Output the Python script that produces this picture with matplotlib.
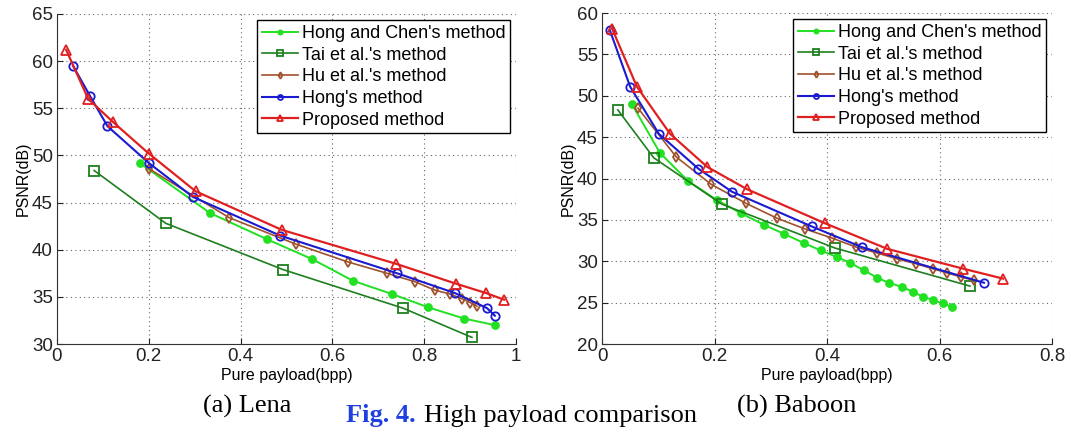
import matplotlib
matplotlib.use("Agg")
from matplotlib import pyplot as plt
from matplotlib.ticker import FuncFormatter

plt.rcParams['font.family'] = ['Liberation Sans', 'DejaVu Sans']

labels = ["Hong and Chen's method", "Tai et al.'s method", "Hu et al.'s method",
          "Hong's method", "Proposed method"]
colors = ["#22e022", "#1e7f1e", "#a0522d", "#1a1ad0", "#e02020"]
markers = ["o", "s", "d", "o", "^"]
msizes = [5, 6.5, 5.5, 6, 7]
fills = [True, False, False, False, False]
lwidths = [1.4, 1.2, 1.2, 1.5, 1.6]

# Lena
lena_hc_x = [0.18, 0.333, 0.458, 0.556, 0.645, 0.73, 0.808, 0.887, 0.954]
lena_hc_y = [49.2, 43.9, 41.1, 39.0, 36.7, 35.3, 33.9, 32.7, 32.0]
lena_tai_x = [0.081, 0.237, 0.492, 0.754, 0.904]
lena_tai_y = [48.4, 42.8, 37.9, 33.8, 30.7]
lena_hu_x = [0.2, 0.375, 0.52, 0.634, 0.719, 0.78, 0.824, 0.856, 0.882, 0.90, 0.915]
lena_hu_y = [48.6, 43.4, 40.6, 38.7, 37.5, 36.6, 35.7, 35.3, 34.8, 34.4, 34.0]
lena_hong_x = [0.035, 0.072, 0.11, 0.2, 0.296, 0.486, 0.741, 0.867, 0.937, 0.954]
lena_hong_y = [59.5, 56.3, 53.1, 49.2, 45.6, 41.5, 37.5, 35.4, 33.8, 33.0]
lena_prop_x = [0.02, 0.068, 0.123, 0.2, 0.302, 0.49, 0.739, 0.869, 0.935, 0.974]
lena_prop_y = [61.2, 56.0, 53.5, 50.2, 46.2, 42.1, 38.5, 36.4, 35.4, 34.7]

# Baboon
bab_hc_x = [0.053, 0.103, 0.153, 0.204, 0.247, 0.288, 0.324, 0.359, 0.389, 0.418,
            0.441, 0.466, 0.489, 0.51, 0.533, 0.553, 0.571, 0.589, 0.606, 0.622]
bab_hc_y = [49.0, 43.1, 39.7, 37.4, 35.8, 34.4, 33.3, 32.2, 31.3, 30.5,
            29.8, 28.9, 28.0, 27.4, 26.9, 26.3, 25.7, 25.3, 24.9, 24.5]
bab_tai_x = [0.028, 0.092, 0.213, 0.414, 0.654]
bab_tai_y = [48.3, 42.5, 36.9, 31.6, 27.0]
bab_hu_x = [0.064, 0.132, 0.194, 0.256, 0.311, 0.361, 0.409, 0.452, 0.489, 0.524,
            0.558, 0.588, 0.613, 0.638, 0.661]
bab_hu_y = [48.5, 42.6, 39.3, 37.0, 35.2, 33.9, 32.8, 31.7, 31.0, 30.3,
            29.7, 29.1, 28.6, 28.1, 27.7]
bab_hong_x = [0.014, 0.05, 0.101, 0.171, 0.231, 0.373, 0.462, 0.679]
bab_hong_y = [57.9, 51.1, 45.4, 41.2, 38.4, 34.2, 31.7, 27.4]
bab_prop_x = [0.018, 0.062, 0.121, 0.187, 0.258, 0.396, 0.507, 0.642, 0.713]
bab_prop_y = [58.1, 51.1, 45.4, 41.4, 38.7, 34.6, 31.5, 29.1, 27.9]

lena = [(lena_hc_x, lena_hc_y), (lena_tai_x, lena_tai_y), (lena_hu_x, lena_hu_y),
        (lena_hong_x, lena_hong_y), (lena_prop_x, lena_prop_y)]
baboon = [(bab_hc_x, bab_hc_y), (bab_tai_x, bab_tai_y), (bab_hu_x, bab_hu_y),
          (bab_hong_x, bab_hong_y), (bab_prop_x, bab_prop_y)]


def fmt(v, pos):
    s = "%g" % round(v, 2)
    return s


def drawpanel(ax, series, xmax, ymin, ymax):
    for i, (xs, ys) in enumerate(series):
        ax.plot(xs, ys, color=colors[i], marker=markers[i], markersize=msizes[i],
                markerfacecolor=colors[i] if fills[i] else "none",
                markeredgecolor=colors[i], markeredgewidth=1.3,
                linewidth=lwidths[i], label=labels[i])
    ax.set_xlim(0, xmax)
    ax.set_ylim(ymin, ymax)
    ax.set_xticks([0.2 * k for k in range(int(round(xmax / 0.2)) + 1)])
    ax.set_yticks(range(ymin, ymax + 1, 5))
    ax.xaxis.set_major_formatter(FuncFormatter(fmt))
    ax.grid(True, linestyle=(0, (1, 3)), color="#666666", linewidth=0.8)
    ax.spines['top'].set_visible(False)
    ax.spines['right'].set_visible(False)
    ax.spines['left'].set_color("#333333")
    ax.spines['bottom'].set_color("#333333")
    ax.tick_params(direction="in", labelsize=13.5, length=4, pad=3, colors="#222222")
    ax.set_xlabel("Pure payload(bpp)", fontsize=11.5, labelpad=2)
    ax.set_ylabel("PSNR(dB)", fontsize=11.5, labelpad=1)
    leg = ax.legend(loc="upper right", fontsize=13, frameon=True, fancybox=False,
                    edgecolor="black", framealpha=1, labelspacing=0.26,
                    handlelength=2.0, handletextpad=0.2, borderpad=0.25,
                    borderaxespad=0.35, markerscale=0.6)
    leg.get_frame().set_linewidth(1.0)


fig = plt.figure(figsize=(10.71, 4.32), dpi=100)
ax1 = fig.add_axes([0.0532, 0.2037, 0.4286, 0.7639])
ax2 = fig.add_axes([0.5621, 0.2037, 0.4202, 0.7662])

drawpanel(ax1, lena, 1.0, 30, 65)
drawpanel(ax2, baboon, 0.8, 20, 60)

fig.text(0.19, 0.045, "(a) Lena", family="Liberation Serif", fontsize=19, va="baseline")
fig.text(0.323, 0.022, "Fig. 4.", family="Liberation Serif", fontsize=19,
         fontweight="bold", color="#1f3fe0", va="baseline")
fig.text(0.323 + 0.073, 0.022, "High payload comparison", family="Liberation Serif",
         fontsize=19, va="baseline")
fig.text(0.688, 0.045, "(b) Baboon", family="Liberation Serif", fontsize=19, va="baseline")

fig.savefig("out.png", dpi=100)
